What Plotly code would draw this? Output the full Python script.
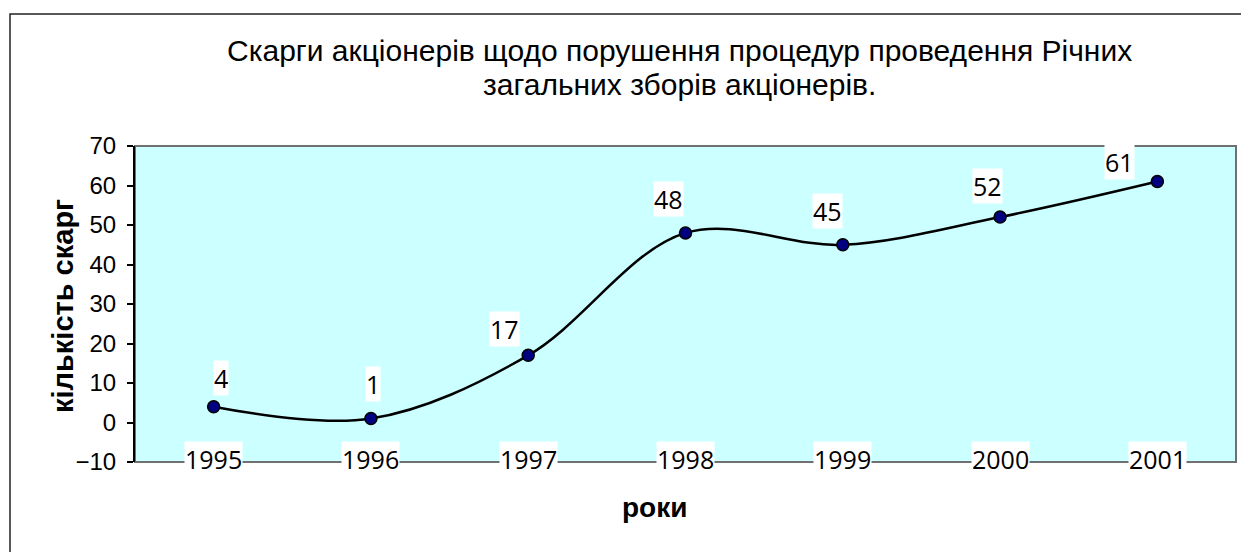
import plotly.graph_objects as go

years = ["1995", "1996", "1997", "1998", "1999", "2000", "2001"]
complaints = [4, 1, 17, 48, 45, 52, 61]
y_ticks = [-10, 0, 10, 20, 30, 40, 50, 60, 70]

title_lines = ["Скарги акціонерів щодо порушення процедур проведення Річних",
               "загальних зборів акціонерів."]
x_title = "роки"
y_title = "кількість скарг"

# label placement offsets (pixels) as in the original Excel chart
label_dx = [7, 2, -24, -17, -15, -13, -38]
label_dy = [29, 35, 26, 34, 34, 31, 20]

W, H = 1241, 552
L, R, T, B = 135, 5, 146, 90
pw = W - L - R
ph = H - T - B


def px_x(x):
    return (x - L) / pw


def px_y(y):
    return 1 - (y - T) / ph


fig = go.Figure()
fig.add_trace(go.Scatter(
    x=list(range(len(years))), y=complaints,
    mode="lines+markers",
    line=dict(color="black", width=2.5, shape="spline", smoothing=1.0),
    marker=dict(size=12, color="#000080", line=dict(color="black", width=1.5)),
    showlegend=False, cliponaxis=False,
))

annotations = []
for i, (yr, v) in enumerate(zip(years, complaints)):
    annotations.append(dict(
        x=i, y=v, xref="x", yref="y", text=str(v), showarrow=False,
        xshift=label_dx[i], yshift=label_dy[i], bgcolor="white", borderpad=0,
        font=dict(family="Open Sans", size=25, color="black"),
    ))
    annotations.append(dict(
        x=i, y=-10, xref="x", yref="y", text=yr, showarrow=False,
        yshift=3, bgcolor="white", borderpad=0,
        font=dict(family="Open Sans", size=25, color="black"),
    ))

for line, yc in zip(title_lines, [51, 84]):
    annotations.append(dict(
        x=px_x(679), y=px_y(yc), xref="paper", yref="paper",
        text=line, showarrow=False, yanchor="middle",
        font=dict(family="Liberation Sans", size=30, color="black"),
    ))
annotations.append(dict(
    x=px_x(654), y=px_y(507), xref="paper", yref="paper",
    text=x_title, showarrow=False, yanchor="middle",
    font=dict(family="Liberation Sans", size=28, color="black", weight="bold"),
))
annotations.append(dict(
    x=px_x(45), y=px_y(306), xref="paper", yref="paper",
    text=y_title, showarrow=False, textangle=-90,
    font=dict(family="Liberation Sans", size=29, color="black", weight="bold"),
))

shapes = [
    # outer chart frame
    dict(type="rect", xref="paper", yref="paper",
         x0=px_x(10), x1=px_x(W + 20), y0=px_y(H + 20), y1=px_y(14),
         line=dict(color="#222222", width=1.5), layer="below"),
    # plot area border
    dict(type="rect", xref="paper", yref="paper", x0=0, x1=1, y0=0, y1=1,
         line=dict(color="#707070", width=2), layer="below"),
]

fig.update_layout(
    width=W, height=H,
    margin=dict(l=L, r=R, t=T, b=B),
    paper_bgcolor="white", plot_bgcolor="#CCFFFF",
    annotations=annotations, shapes=shapes,
    xaxis=dict(range=[-0.5, len(years) - 0.5], showgrid=False, zeroline=False,
               showticklabels=False, showline=False, ticks=""),
    yaxis=dict(range=[-10, 70], tickvals=y_ticks, showgrid=False, zeroline=False,
               showline=True, linecolor="black", linewidth=2,
               ticks="outside", ticklen=6, tickwidth=2, tickcolor="black",
               tickfont=dict(family="Liberation Sans", size=24, color="black"),
               ticklabelstandoff=6),
)

fig.write_html("out.html", config={"displayModeBar": False},
               post_script="document.body.style.margin='0px';")
